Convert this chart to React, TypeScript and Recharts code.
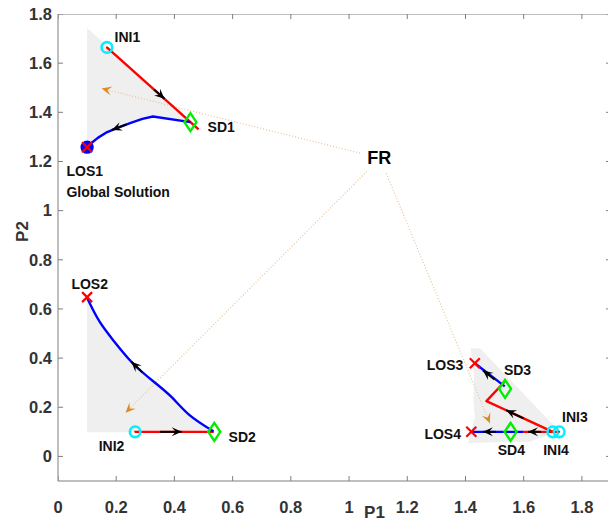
import React from 'react';
import { ComposedChart, Scatter, XAxis, YAxis, Label, Curve } from 'recharts';

type P = { x: number; y: number };
type T = { x: number; y: number; text: string };

const xTicks = [0, 0.2, 0.4, 0.6, 0.8, 1, 1.2, 1.4, 1.6, 1.8];
const yTicks = [0, 0.2, 0.4, 0.6, 0.8, 1, 1.2, 1.4, 1.6, 1.8];
const xMin = 0;
const xMax = 1.9;
const yMin = -0.1;
const yMax = 1.8;

// shaded regions
const shade1: P[] = [
  { x: 0.1, y: 1.743 }, { x: 0.47, y: 1.35 }, { x: 0.455, y: 1.36 }, { x: 0.326, y: 1.383 },
  { x: 0.26, y: 1.36 }, { x: 0.2, y: 1.335 }, { x: 0.143, y: 1.301 }, { x: 0.1, y: 1.258 },
];
const shade2: P[] = [
  { x: 0.1, y: 0.647 }, { x: 0.1, y: 0.098 }, { x: 0.555, y: 0.098 }, { x: 0.534, y: 0.102 },
  { x: 0.452, y: 0.168 }, { x: 0.389, y: 0.243 }, { x: 0.326, y: 0.307 },
  { x: 0.257, y: 0.379 }, { x: 0.189, y: 0.474 }, { x: 0.143, y: 0.548 }, { x: 0.109, y: 0.623 },
];
const shade3: P[] = [
  { x: 1.418, y: 0.44 }, { x: 1.45, y: 0.44 }, { x: 1.7, y: 0.13 }, { x: 1.72, y: 0.1 },
  { x: 1.62, y: 0.06 }, { x: 1.41, y: 0.055 }, { x: 1.432, y: 0.16 }, { x: 1.427, y: 0.23 },
  { x: 1.43, y: 0.32 },
];

// trajectories
const red1: P[] = [{ x: 0.168, y: 1.664 }, { x: 0.483, y: 1.331 }];
const blue1: P[] = [
  { x: 0.455, y: 1.36 }, { x: 0.326, y: 1.383 }, { x: 0.29, y: 1.373 }, { x: 0.25, y: 1.357 },
  { x: 0.2, y: 1.335 }, { x: 0.165, y: 1.317 }, { x: 0.138, y: 1.297 }, { x: 0.115, y: 1.275 },
  { x: 0.1, y: 1.258 },
];
const red2: P[] = [{ x: 0.265, y: 0.1 }, { x: 0.535, y: 0.1 }];
const blue2: P[] = [
  { x: 0.534, y: 0.102 }, { x: 0.452, y: 0.168 }, { x: 0.389, y: 0.243 },
  { x: 0.326, y: 0.307 }, { x: 0.257, y: 0.379 }, { x: 0.189, y: 0.474 }, { x: 0.143, y: 0.548 },
  { x: 0.109, y: 0.623 }, { x: 0.1, y: 0.647 },
];
const red3: P[] = [{ x: 1.7, y: 0.1 }, { x: 1.472, y: 0.225 }, { x: 1.535, y: 0.305 }];
const blue3: P[] = [{ x: 1.535, y: 0.285 }, { x: 1.432, y: 0.379 }];
const red4: P[] = [{ x: 1.722, y: 0.1 }, { x: 1.6, y: 0.1 }];
const blue4: P[] = [{ x: 1.6, y: 0.1 }, { x: 1.42, y: 0.1 }];

// direction arrows [tail, tip]
const arrowRed1: P[] = [{ x: 0.33, y: 1.493 }, { x: 0.366, y: 1.455 }];
const arrowBlue1: P[] = [{ x: 0.235, y: 1.351 }, { x: 0.185, y: 1.328 }];
const arrowRed2: P[] = [{ x: 0.35, y: 0.1 }, { x: 0.425, y: 0.1 }];
const arrowBlue2: P[] = [{ x: 0.29, y: 0.342 }, { x: 0.252, y: 0.385 }];
const arrowRed3: P[] = [{ x: 1.6, y: 0.155 }, { x: 1.54, y: 0.188 }];
const arrowBlue3: P[] = [{ x: 1.5, y: 0.313 }, { x: 1.46, y: 0.35 }];
const arrowRed4: P[] = [{ x: 1.66, y: 0.1 }, { x: 1.615, y: 0.1 }];
const arrowBlue4: P[] = [{ x: 1.505, y: 0.1 }, { x: 1.46, y: 0.1 }];

// FR guide lines [from, to]
const guide1: P[] = [{ x: 1.038, y: 1.234 }, { x: 0.15, y: 1.497 }];
const guide2: P[] = [{ x: 1.061, y: 1.159 }, { x: 0.232, y: 0.178 }];
const guide3: P[] = [{ x: 1.128, y: 1.152 }, { x: 1.484, y: 0.135 }];

// markers
const iniPts: P[] = [{ x: 0.168, y: 1.664 }, { x: 0.265, y: 0.1 }, { x: 1.7, y: 0.1 }, { x: 1.722, y: 0.1 }];
const sdPts: P[] = [{ x: 0.455, y: 1.36 }, { x: 0.537, y: 0.1 }, { x: 1.536, y: 0.275 }, { x: 1.555, y: 0.1 }];
const losPts: P[] = [{ x: 0.1, y: 1.258 }, { x: 0.1, y: 0.648 }, { x: 1.432, y: 0.379 }, { x: 1.42, y: 0.1 }];
const globalPts: P[] = [{ x: 0.1, y: 1.258 }];

// text annotations (left-anchored)
const labels: T[] = [
  { x: 0.1945, y: 1.707, text: 'INI1' },
  { x: 0.514, y: 1.338, text: 'SD1' },
  { x: 0.029, y: 1.162, text: 'LOS1' },
  { x: 0.029, y: 1.075, text: 'Global Solution' },
  { x: 0.046, y: 0.702, text: 'LOS2' },
  { x: 0.14, y: 0.043, text: 'INI2' },
  { x: 0.586, y: 0.08, text: 'SD2' },
  { x: 1.267, y: 0.372, text: 'LOS3' },
  { x: 1.532, y: 0.351, text: 'SD3' },
  { x: 1.732, y: 0.159, text: 'INI3' },
  { x: 1.259, y: 0.091, text: 'LOS4' },
  { x: 1.511, y: 0.026, text: 'SD4' },
  { x: 1.667, y: 0.026, text: 'INI4' },
];
const frLabel: T[] = [{ x: 1.104, y: 1.217, text: 'FR' }];

// axes frame (box) and its tick positions, derived from the domain and tick lists
const frameBox: P[] = [
  { x: xMin, y: yMax }, { x: xMax, y: yMax }, { x: xMax, y: yMin },
];
const topTicks = xTicks.map((t) => ({ x: t, y: yMax }));
const bottomTicks = xTicks.map((t) => ({ x: t, y: yMin }));
const leftTicks = yTicks.map((t) => ({ x: xMin, y: t }));
const rightTicks = yTicks.map((t) => ({ x: xMax, y: t }));

const FONT = 'Liberation Sans, Arial, Helvetica, sans-serif';
const AX = '#7f7f7f';
const TICK = 5;

const noShape = () => <g />;

const polyLine = (stroke: string, width: number) => (p: any) => {
  const pts = p.points || [];
  if (!pts.length) return <g />;
  const d = pts.map((q: any, i: number) => `${i ? 'L' : 'M'}${q.x},${q.y}`).join(' ');
  return <path d={d} fill="none" stroke={stroke} strokeWidth={width} strokeLinejoin="round" />;
};

const smoothLine = (stroke: string, width: number) => (p: any) => {
  const pts = p.points || [];
  if (!pts.length) return <g />;
  return <Curve points={pts} type="natural" fill="none" stroke={stroke} strokeWidth={width} />;
};

const polyFill = (fill: string) => (p: any) => {
  const pts = p.points || [];
  if (!pts.length) return <g />;
  const d = pts.map((q: any, i: number) => `${i ? 'L' : 'M'}${q.x},${q.y}`).join(' ') + ' Z';
  return <path d={d} fill={fill} stroke="none" />;
};

const head = (tip: any, tail: any, L: number, W: number) => {
  const dx = tip.x - tail.x;
  const dy = tip.y - tail.y;
  const len = Math.sqrt(dx * dx + dy * dy) || 1;
  const ux = dx / len, uy = dy / len;
  const nx = -uy, ny = ux;
  const bx = tip.x - ux * L, by = tip.y - uy * L;
  const mx = tip.x - ux * L * 0.6, my = tip.y - uy * L * 0.6;
  return `M${tip.x},${tip.y} L${bx + nx * W},${by + ny * W} L${mx},${my} L${bx - nx * W},${by - ny * W} Z`;
};

const blackArrow = (p: any) => {
  const pts = p.points || [];
  if (pts.length < 2) return <g />;
  const [a, b] = pts;
  return (
    <g>
      <line x1={a.x} y1={a.y} x2={b.x} y2={b.y} stroke="#000" strokeWidth={2} />
      <path d={head(b, a, 10, 4.5)} fill="#000" />
    </g>
  );
};

const guideLine = (p: any) => {
  const pts = p.points || [];
  if (pts.length < 2) return <g />;
  const [a, b] = pts;
  return (
    <g>
      <line x1={a.x} y1={a.y} x2={b.x} y2={b.y} stroke="#e6c49a" strokeWidth={1.2} strokeDasharray="1 2" />
      <path d={head(b, a, 10, 4.5)} fill="#e0891e" />
    </g>
  );
};

const iniShape = (p: any) => (
  <g>
    <circle cx={p.cx} cy={p.cy} r={5.3} fill="none" stroke="#00f0ff" strokeWidth={2.6} />
    <circle cx={p.cx} cy={p.cy} r={1} fill="#ff0000" />
  </g>
);
const sdShape = (p: any) => (
  <path d={`M${p.cx},${p.cy - 9} L${p.cx + 6},${p.cy} L${p.cx},${p.cy + 9} L${p.cx - 6},${p.cy} Z`} fill="none" stroke="#00ee00" strokeWidth={2.4} />
);
const losShape = (p: any) => (
  <path d={`M${p.cx - 5},${p.cy - 5} L${p.cx + 5},${p.cy + 5} M${p.cx + 5},${p.cy - 5} L${p.cx - 5},${p.cy + 5}`} stroke="#ff0000" strokeWidth={2.2} />
);
const globalShape = (p: any) => <circle cx={p.cx} cy={p.cy} r={6.6} fill="#0000ff" />;

const textShape = (p: any) => (
  <text x={p.cx} y={p.cy} dy="0.35em" fontFamily={FONT} fontWeight="bold" fontSize={14} fill="#111">
    {p.payload.text}
  </text>
);
const frShape = (p: any) => (
  <text x={p.cx} y={p.cy} dy="0.35em" textAnchor="middle" fontFamily={FONT} fontWeight="bold" fontSize={18} fill="#000">
    {p.payload.text}
  </text>
);

// inward tick marks
const tickDown = (p: any) => <line x1={p.cx} x2={p.cx} y1={p.cy} y2={p.cy + TICK} stroke={AX} strokeWidth={1} />;
const tickUp = (p: any) => <line x1={p.cx} x2={p.cx} y1={p.cy} y2={p.cy - TICK} stroke={AX} strokeWidth={1} />;
const tickRight = (p: any) => <line x1={p.cx} x2={p.cx + TICK} y1={p.cy} y2={p.cy} stroke={AX} strokeWidth={1} />;
const tickLeft = (p: any) => <line x1={p.cx} x2={p.cx - TICK} y1={p.cy} y2={p.cy} stroke={AX} strokeWidth={1} />;

const tickStyle = { fill: '#333', fontSize: 16.5, fontWeight: 'bold', fontFamily: FONT } as any;

export default function App() {
  const S = (key: string, data: any[], shape: any, line?: any) => (
    <Scatter
      key={key}
      xAxisId="b"
      yAxisId="l"
      data={data}
      dataKey="y"
      shape={shape}
      line={line}
      isAnimationActive={false}
    />
  );
  return (
    <div style={{ margin: '-8px 0 0 -8px', width: 616, height: 523 }}>
      <ComposedChart width={616} height={523} margin={{ top: 14, right: 5, bottom: 0, left: 0 }}>
        <XAxis
          xAxisId="b"
          type="number"
          dataKey="x"
          domain={[xMin, xMax]}
          ticks={xTicks}
          allowDataOverflow
          interval={0}
          height={42}
          tickSize={0}
          tickMargin={20}
          axisLine={{ stroke: AX }}
          tickLine={false}
          tick={tickStyle}
        >
          <Label
            content={(props: any) => {
              const vb = props.viewBox || { x: 58, y: 481, width: 553, height: 42 };
              return (
                <text x={vb.x + vb.width / 2 + 40} y={vb.y + 31} dy="0.35em" textAnchor="middle" fontFamily={FONT} fontWeight="bold" fontSize={17} fill="#333">
                  P1
                </text>
              );
            }}
          />
        </XAxis>
        <YAxis
          yAxisId="l"
          type="number"
          dataKey="y"
          domain={[yMin, yMax]}
          ticks={yTicks}
          allowDataOverflow
          interval={0}
          width={58}
          tickSize={0}
          tickMargin={6}
          axisLine={{ stroke: AX }}
          tickLine={false}
          tick={tickStyle}
        >
          <Label
            content={(props: any) => {
              const vb = props.viewBox || { x: 0, y: 14, width: 58, height: 467 };
              const cx = vb.x + 22;
              const cy = vb.y + vb.height / 2 - 16;
              return (
                <text x={cx} y={cy} dy="0.35em" textAnchor="middle" transform={`rotate(-90 ${cx} ${cy})`} fontFamily={FONT} fontWeight="bold" fontSize={17} fill="#333">
                  P2
                </text>
              );
            }}
          />
        </YAxis>
        {S('frame', frameBox, noShape, polyLine(AX, 1))}
        {S('tTop', topTicks, tickDown)}
        {S('tBottom', bottomTicks, tickUp)}
        {S('tLeft', leftTicks, tickRight)}
        {S('tRight', rightTicks, tickLeft)}
        {S('shade1', shade1, noShape, polyFill('#efefef'))}
        {S('shade2', shade2, noShape, polyFill('#efefef'))}
        {S('shade3', shade3, noShape, polyFill('#efefef'))}
        {S('guide1', guide1, noShape, guideLine)}
        {S('guide2', guide2, noShape, guideLine)}
        {S('guide3', guide3, noShape, guideLine)}
        {S('red1', red1, noShape, polyLine('#ff0000', 2.4))}
        {S('blue1', blue1, noShape, polyLine('#0000ff', 2.4))}
        {S('red2', red2, noShape, polyLine('#ff0000', 2.4))}
        {S('blue2', blue2, noShape, smoothLine('#0000ff', 2.4))}
        {S('red3', red3, noShape, polyLine('#ff0000', 2.4))}
        {S('blue3', blue3, noShape, polyLine('#0000ff', 2.4))}
        {S('red4', red4, noShape, polyLine('#ff0000', 2.4))}
        {S('blue4', blue4, noShape, polyLine('#0000ff', 2.4))}
        {S('aR1', arrowRed1, noShape, blackArrow)}
        {S('aB1', arrowBlue1, noShape, blackArrow)}
        {S('aR2', arrowRed2, noShape, blackArrow)}
        {S('aB2', arrowBlue2, noShape, blackArrow)}
        {S('aR3', arrowRed3, noShape, blackArrow)}
        {S('aB3', arrowBlue3, noShape, blackArrow)}
        {S('aR4', arrowRed4, noShape, blackArrow)}
        {S('aB4', arrowBlue4, noShape, blackArrow)}
        {S('global', globalPts, globalShape)}
        {S('ini', iniPts, iniShape)}
        {S('sd', sdPts, sdShape)}
        {S('los', losPts, losShape)}
        {S('labels', labels, textShape)}
        {S('fr', frLabel, frShape)}
      </ComposedChart>
    </div>
  );
}
